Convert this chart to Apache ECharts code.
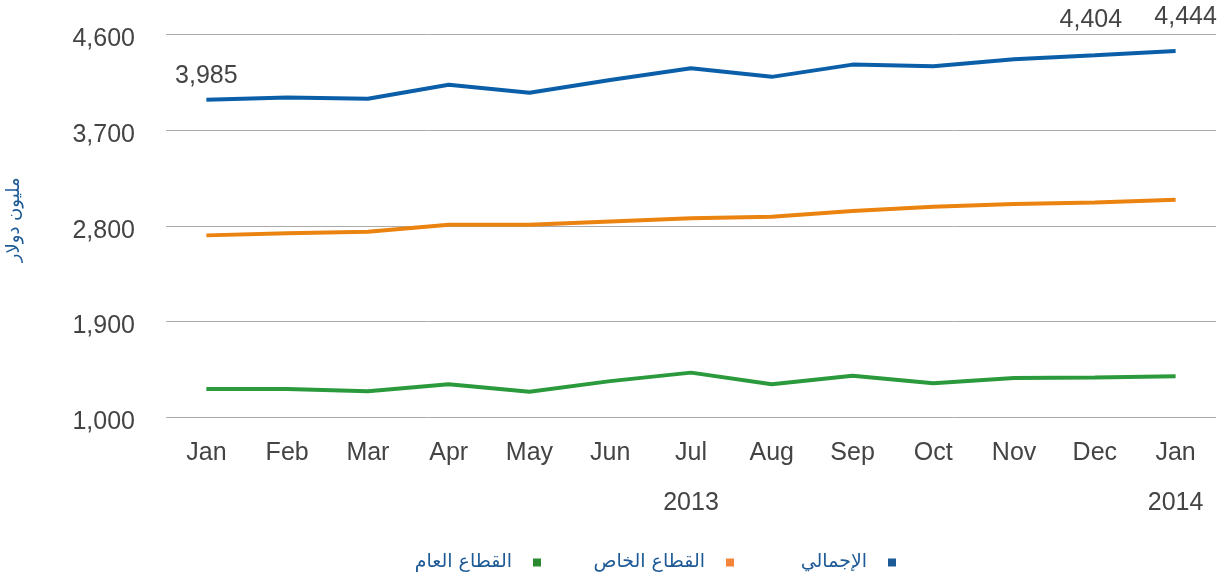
<!DOCTYPE html>
<html>
<head>
<meta charset="utf-8">
<script src="https://cdn.jsdelivr.net/npm/echarts@6/dist/echarts.min.js"></script>
<style>
  html, body { margin: 0; padding: 0; background: #fff; }
  #chart { width: 1224px; height: 585px; }
</style>
</head>
<body>
<div id="chart"></div>
<script>
// months, Jan 2013 .. Jan 2014
const months = ['Jan','Feb','Mar','Apr','May','Jun','Jul','Aug','Sep','Oct','Nov','Dec','Jan'];
const yearLabels = {6: '2013', 12: '2014'};
const seriesNames = ['الإجمالي', 'القطاع الخاص', 'القطاع العام'];
const totalVals   = [3985, 4005, 3995, 4125, 4050, 4170, 4280, 4200, 4315, 4300, 4365, 4404, 4444];
const privateVals = [2710, 2730, 2745, 2810, 2810, 2840, 2870, 2885, 2940, 2980, 3005, 3020, 3045];
const publicVals  = [1265, 1265, 1245, 1310, 1240, 1340, 1420, 1310, 1390, 1320, 1370, 1375, 1385];
const yTicks = [1000, 1900, 2800, 3700, 4600];

const lineColors = ['#0b5fa8', '#ea830f', '#2a9a3c'];
const legendColors = ['#1c5a98', '#f4843a', '#2a8a2e'];
const textColor = '#444';
const latin = 'Liberation Sans, Arial, sans-serif';
const arabic = 'DejaVu Sans';

let myChart = echarts.init(document.getElementById('chart'));

// only a few points carry a value label
const labelOffsets = {0: [0, -6], 11: [-4, -18], 12: [10, -16]};
const totalData = totalVals.map((v, i) => {
    if (labelOffsets[i] === undefined) return v;
    return {
        value: v,
        label: {
            show: true,
            position: 'top',
            offset: labelOffsets[i],
            color: textColor,
            fontSize: 25,
            fontFamily: latin,
            formatter: p => p.value.toLocaleString('en-US')
        }
    };
});

const seriesItem = [totalData, privateVals, publicVals].map((d, i) => ({
    name: seriesNames[i],
    type: 'line',
    symbol: 'circle',
    symbolSize: 0,
    showSymbol: true,
    lineStyle: {color: lineColors[i], width: 4},
    itemStyle: {color: lineColors[i]},
    z: 3 - i,
    data: d
}));

// one legend per item so each sits where the original does
const legendRight = [328, 490, 683];
const legends = seriesNames.map((n, i) => ({
    right: legendRight[i] - 5,
    bottom: 8,
    align: 'right',
    icon: 'rect',
    itemWidth: 8,
    itemHeight: 8,
    textStyle: {color: '#1d5a96', fontSize: 19, fontFamily: arabic, padding: [0, 16, 0, 0]},
    data: [{name: n, itemStyle: {color: legendColors[i]}}]
}));

myChart.setOption({
    animation: false,
    grid: {left: 166, right: 8, top: 34.3, bottom: 167.7, outerBoundsMode: 'none'},
    legend: legends,
    xAxis: {
        type: 'category',
        data: months,
        boundaryGap: true,
        axisLine: {show: false},
        axisTick: {show: false},
        axisLabel: {
            color: textColor,
            fontSize: 25,
            fontFamily: latin,
            lineHeight: 50,
            margin: 11,
            interval: 0,
            formatter: (v, i) => yearLabels[i] ? v + '\n' + yearLabels[i] : v
        }
    },
    yAxis: {
        type: 'value',
        min: yTicks[0],
        max: yTicks[yTicks.length - 1],
        interval: 900,
        name: 'مليون دولار',
        nameLocation: 'middle',
        nameRotate: 90,
        nameGap: 143,
        nameTextStyle: {color: '#1d5a96', fontSize: 18, fontFamily: arabic, padding: [0, 0, 0, 12]},
        axisLine: {show: false},
        axisTick: {show: false},
        axisLabel: {
            margin: 31,
            formatter: v => '{n|' + v.toLocaleString('en-US') + '}',
            rich: {
                n: {color: textColor, fontSize: 25, fontFamily: latin, padding: [10, 0, 0, 0]}
            }
        },
        splitLine: {show: true, lineStyle: {color: '#aaa', width: 1}}
    },
    series: seriesItem
});
window.addEventListener('resize', () => myChart.resize());
</script>
</body>
</html>
